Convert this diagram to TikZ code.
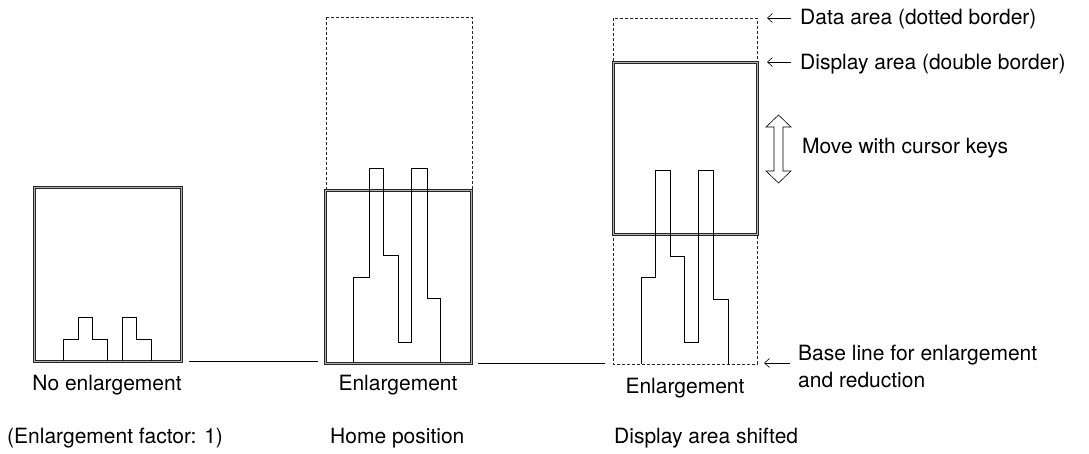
\documentclass[tikz,border=0pt]{standalone}
\usepackage{fontspec}
\setmainfont{TeX Gyre Heros}
\usepackage{tikz}
\usetikzlibrary{arrows.meta, positioning, calc}

% double frame: grey band with two thin edges
\newcommand{\dispframe}[4]{%
  \draw[dispband] (#1,#2) rectangle (#3,#4);
  \draw[dispedge] (#1-1.1,#2-1.1) rectangle (#3+1.1,#4+1.1);
  \draw[dispedge] (#1+1.1,#2+1.1) rectangle (#3-1.1,#4-1.1);
}

\begin{document}
\begin{tikzpicture}[
  x=1pt, y=-1pt,
  lbl/.style={inner sep=0pt, font=\fontsize{21}{26}\selectfont},
  databox/.style={draw=black!85, line width=0.6pt, dash pattern=on 3pt off 2pt},
  dispband/.style={draw=black!30, line width=2.2pt},
  dispedge/.style={draw=black!85, line width=0.5pt},
  bars/.style={draw=black, line width=0.7pt},
  baseln/.style={draw=black, line width=0.6pt},
  pointer/.style={<-, line width=0.6pt, >={Straight Barb[length=5pt, width=9pt]}}
]
\useasboundingbox (0,0) rectangle (1089,454);

% panel 1: no enlargement
\dispframe{34}{187}{181}{361}
\draw[bars] (63,361) -- (63,339) -- (78,339) -- (78,317) -- (92,317) -- (92,339) -- (107,339) -- (107,361);
\draw[bars] (122,361) -- (122,317) -- (136,317) -- (136,339) -- (151,339) -- (151,361);

% panel 2: home position
\draw[databox] (326,17) rectangle (472,190);
\dispframe{325}{190}{471}{363}
\draw[bars] (353,363) -- (353,277) -- (369,277) -- (369,168) -- (383,168) -- (383,255) -- (398,255)
  -- (398,342) -- (411,342) -- (411,168) -- (427,168) -- (427,298) -- (440,298) -- (440,363);

% panel 3: display area shifted
\draw[databox] (613,18) rectangle (757,364);
\dispframe{613}{62}{757}{234}
\draw[bars] (641,364) -- (641,277) -- (655,277) -- (655,170) -- (670,170) -- (670,256) -- (684,256)
  -- (684,342) -- (698,342) -- (698,170) -- (713,170) -- (713,299) -- (728,299) -- (728,364);

% base line pieces
\coordinate (b1) at (189,361);
\coordinate (b2) at (318,361);
\coordinate (b3) at (478,363);
\coordinate (b4) at (605,363);
\draw[baseln] (b1) -- (b2);
\draw[baseln] (b3) -- (b4);

% captions
\node[lbl, anchor=base] (cap1) at (107,390) {No enlargement};
\node[lbl, anchor=base] (cap2) at (398,390) {Enlargement};
\node[lbl, anchor=base] (cap3) at (685,393) {Enlargement};
\node[lbl, anchor=base west] (sub1) at (7,443) {(Enlargement factor: 1)};
\node[lbl, anchor=base west] (sub2) at (330,443) {Home position};
\node[lbl, anchor=base west] (sub3) at (614,443) {Display area shifted};

% legend on the right
\node[lbl, anchor=base west] (data) at (800,25) {Data area (dotted border)};
\node[lbl, anchor=base west] (disp) at (800,70) {Display area (double border)};
\node[lbl, anchor=base west] (move) at (802,154) {Move with cursor keys};
\node[lbl, anchor=base west] (base) at (798,360) {Base line for enlargement};
\node[lbl, anchor=base west] (red) at (798,387) {and reduction};

\coordinate (pd) at (767,18);
\coordinate (pp) at (767,62);
\coordinate (pb) at (764,363);
\draw[pointer] (pd) -- ++(24,0);
\draw[pointer] (pp) -- ++(24,0);
\draw[pointer] (pb) -- ++(26,0);

% double arrow
\coordinate (mv) at (778.5,149);
\draw[line width=0.6pt] (mv) ++(0,-34) -- ++(12.5,12) -- ++(-8,0) -- ++(0,44) -- ++(8,0)
  -- ++(-12.5,12) -- ++(-12.5,-12) -- ++(8,0) -- ++(0,-44) -- ++(-8,0) -- cycle;
\end{tikzpicture}
\end{document}
